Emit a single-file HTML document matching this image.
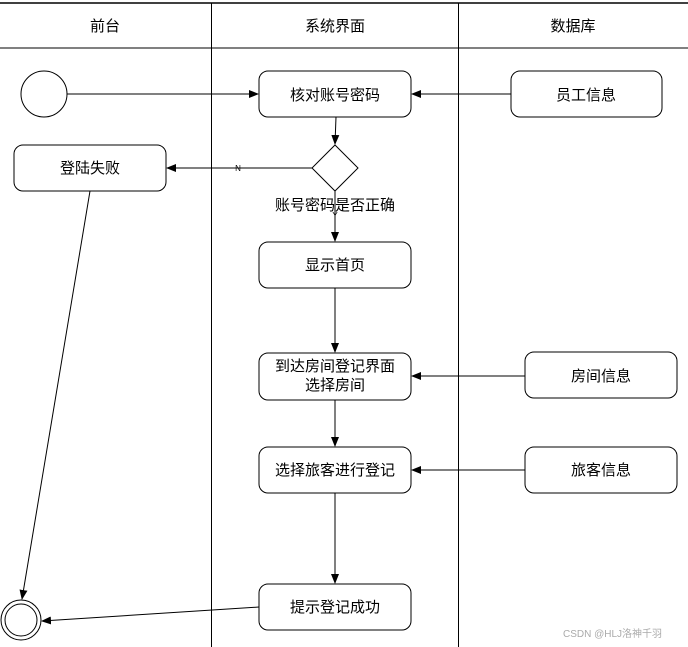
<!DOCTYPE html>
<html><head><meta charset="utf-8"><style>
html,body{margin:0;padding:0;background:#fff;}
svg{display:block;}
text{font-family:"Liberation Sans","Noto Sans CJK SC",sans-serif;font-size:15px;fill:#000;}
</style></head><body>
<svg width="688" height="647" viewBox="0 0 688 647" xmlns="http://www.w3.org/2000/svg">
<defs>
<marker id="a" markerWidth="10" markerHeight="8" refX="9" refY="4" orient="auto" markerUnits="userSpaceOnUse"><path d="M0,0 L10,4 L0,8 z" fill="#000"/></marker>
</defs>
<g stroke="#000" fill="none" stroke-width="1">
<line x1="0" y1="3" x2="688" y2="3" stroke-width="1.5"/>
<line x1="0" y1="48" x2="688" y2="48"/>
<line x1="211.5" y1="3" x2="211.5" y2="647"/>
<line x1="458.5" y1="3" x2="458.5" y2="647"/>
<circle cx="44" cy="94" r="23"/>
<rect x="259" y="71" width="152" height="46" rx="9"/>
<rect x="511" y="71" width="151" height="46" rx="9"/>
<polygon points="335,145 358,168 335,191 312,168"/>
<rect x="14" y="145" width="152" height="46" rx="9"/>
<rect x="259" y="242" width="152" height="46" rx="9"/>
<rect x="259" y="353" width="152" height="47" rx="9"/>
<rect x="525" y="352" width="152" height="46" rx="9"/>
<rect x="259" y="447" width="152" height="46" rx="9"/>
<rect x="525" y="447" width="152" height="46" rx="9"/>
<rect x="259" y="584" width="152" height="46" rx="9"/>
<circle cx="21" cy="620" r="20"/>
<circle cx="21" cy="620" r="16"/>
<line x1="67" y1="94" x2="258" y2="94" marker-end="url(#a)"/>
<line x1="511" y1="94" x2="412" y2="94" marker-end="url(#a)"/>
<line x1="336" y1="117" x2="335" y2="144" marker-end="url(#a)"/>
<line x1="312" y1="168" x2="167" y2="168" marker-end="url(#a)"/>
<line x1="335" y1="191" x2="335" y2="241" marker-end="url(#a)"/>
<line x1="335" y1="288" x2="335" y2="352" marker-end="url(#a)"/>
<line x1="525" y1="376" x2="412" y2="376" marker-end="url(#a)"/>
<line x1="335" y1="400" x2="335" y2="446" marker-end="url(#a)"/>
<line x1="525" y1="470" x2="412" y2="470" marker-end="url(#a)"/>
<line x1="335" y1="493" x2="335" y2="583" marker-end="url(#a)"/>
<line x1="90" y1="191" x2="22" y2="599" marker-end="url(#a)"/>
<line x1="259" y1="607" x2="42" y2="621" marker-end="url(#a)"/>
</g>
<g text-anchor="middle">
<text x="105" y="31">前台</text>
<text x="335" y="31">系统界面</text>
<text x="573" y="31">数据库</text>
<text x="335" y="100">核对账号密码</text>
<text x="586" y="100">员工信息</text>
<text x="90" y="173">登陆失败</text>
<text x="335" y="210">账号密码是否正确</text>
<text x="335" y="270">显示首页</text>
<text x="335" y="371">到达房间登记界面</text>
<text x="335" y="390">选择房间</text>
<text x="601" y="381">房间信息</text>
<text x="335" y="475">选择旅客进行登记</text>
<text x="601" y="475">旅客信息</text>
<text x="335" y="612">提示登记成功</text>
<text x="238" y="171" style="font-size:8px">N</text>
<text x="335" y="218" style="font-size:8px">Y</text>
</g>
<text x="563" y="637" style="font-size:10px;fill:#aaa">CSDN @HLJ洛神千羽</text>
</svg>
</body></html>
